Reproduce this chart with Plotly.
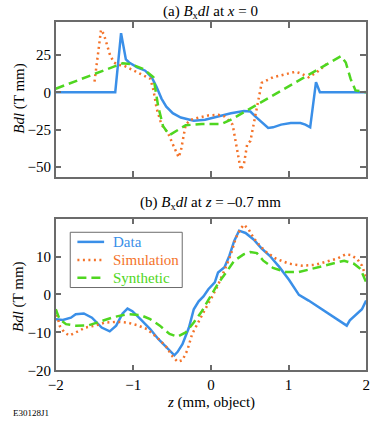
import plotly.graph_objects as go

# (a) Bx dl at x = 0
za_data = [-2.0, -1.233, -1.158, -1.096, -1.054, -0.95, -0.846, -0.763, -0.7, -0.637, -0.575, -0.492,
           -0.388, -0.221, -0.075, 0.092, 0.258, 0.425, 0.508, 0.571, 0.675, 0.738, 0.8, 0.904,
           1.029, 1.154, 1.217, 1.279, 1.354, 1.375, 1.404, 2.0]
bdl_a_data = [0, 0, 39.7, 22.1, 20.0, 16.7, 14.5, 10.1, 3.5, -4.2, -9.6, -14.0,
              -16.9, -19.1, -18.4, -16.2, -14.0, -12.5, -12.9, -16.2, -21.3, -23.9, -23.5, -21.7,
              -20.6, -20.6, -21.7, -23.5, 6.8, 3.5, 0, 0]

za_sim = [-1.5, -1.47, -1.44, -1.416, -1.38, -1.346, -1.3, -1.25, -1.2, -1.117, -0.99, -0.87, -0.78,
          -0.74, -0.7, -0.637, -0.554, -0.491, -0.45, -0.416, -0.387, -0.345, -0.325, -0.263, -0.158,
          -0.033, 0.092, 0.175, 0.28, 0.321, 0.384, 0.426, 0.467, 0.509, 0.55, 0.613, 0.655, 0.8,
          0.967, 1.092, 1.175, 1.259, 1.363, 1.488]
bdl_a_sim = [7.2, 20.0, 32.0, 42.0, 39.0, 33.0, 25.0, 20.0, 18.5, 17.8, 14.5, 11.2, 9.0,
             1.3, -10.7, -21.7, -27.2, -34.9, -40.3, -43.6, -39.2, -26.0, -21.7, -18.4, -17.3,
             -15.5, -15.1, -16.2, -21.7, -34.9, -52.0, -48.0, -34.9, -32.6, -21.7, -4.1, 6.4, 10.1,
             12.3, 13.8, 12.3, 10.1, 13.4, 18.9]

za_syn = [-2.0, -1.137, -1.033, -0.866, -0.741, -0.679, -0.616, -0.533, -0.325, -0.116, 0.134, 0.259,
          1.675, 1.738, 1.8, 1.863, 2.0]
bdl_a_syn = [2.4, 19.5, 18.9, 15.6, 10.1, -9.6, -22.8, -28.7, -22.1, -21.3, -21.3, -18.4,
             24.3, 20.0, 9.0, 1.3, 0.0]

# (b) Bx dl at z = -0.7 mm
zb_data = [-2.0, -1.908, -1.804, -1.742, -1.638, -1.533, -1.408, -1.304, -1.221, -1.138, -1.075, -1.012,
           -0.908, -0.783, -0.679, -0.575, -0.471, -0.429, -0.367, -0.283, -0.221, -0.158, -0.096, -0.033,
           0.05, 0.092, 0.175, 0.238, 0.3, 0.363, 0.446, 0.55, 0.654, 0.758, 0.883, 1.008, 1.134,
           1.259, 1.467, 1.634, 1.75, 1.79, 1.883, 1.946, 2.0]
bdl_b_data = [-6.5, -6.7, -6.1, -5.2, -5.0, -6.1, -8.7, -9.7, -8.2, -5.0, -3.7, -4.4,
              -6.5, -9.1, -11.7, -13.8, -16.0, -15.1, -13.1, -8.7, -3.9, -1.8, -0.5, 1.4,
              3.2, 5.8, 7.2, 10.2, 14.1, 16.8, 16.2, 14.5, 12.1, 10.2, 7.2, 3.8, -0.1,
              -1.6, -4.4, -6.8, -8.2, -6.8, -5.2, -3.9, -1.6]

zb_sim = [-2.0, -1.95, -1.888, -1.825, -1.742, -1.617, -1.492, -1.367, -1.2, -1.075, -0.95, -0.825,
          -0.7, -0.575, -0.492, -0.429, -0.367, -0.304, -0.242, -0.158, -0.075, 0.008, 0.092, 0.175,
          0.258, 0.321, 0.383, 0.425, 0.488, 0.55, 0.633, 0.717, 0.842, 1.008, 1.175, 1.342, 1.508,
          1.633, 1.738, 1.8, 1.883, 1.946, 2.0]
bdl_b_sim = [-3.9, -8.2, -10.0, -10.8, -10.0, -8.7, -8.2, -7.4, -7.2, -7.4, -8.1, -9.1,
             -11.2, -13.8, -16.4, -17.7, -17.3, -14.7, -10.4, -7.0, -3.9, -0.9, 2.5, 6.4,
             10.6, 14.9, 17.3, 18.4, 17.1, 14.9, 12.8, 11.1, 9.4, 8.1, 7.6, 7.8, 8.8,
             9.5, 10.6, 10.4, 9.4, 7.6, 4.6]

zb_syn = [-2.0, -1.95, -1.867, -1.742, -1.575, -1.408, -1.242, -1.075, -0.908, -0.783, -0.658, -0.533,
          -0.429, -0.325, -0.221, -0.117, -0.013, 0.092, 0.217, 0.3, 0.425, 0.508, 0.592, 0.675,
          0.8, 0.967, 1.133, 1.342, 1.55, 1.717, 1.842, 1.925, 2.0]
bdl_b_syn = [-3.9, -6.5, -7.8, -8.2, -8.1, -7.0, -5.9, -5.2, -5.4, -6.5, -8.2, -10.4,
             -11.1, -10.0, -7.4, -4.4, -0.9, 2.9, 6.4, 8.9, 10.6, 11.2, 10.9, 8.9,
             7.0, 5.9, 5.9, 7.0, 8.1, 8.9, 8.1, 6.8, 3.2]

series = ["Data", "Simulation", "Synthetic"]
colors = ["#3a8fe8", "#f4732a", "#4fd620"]
dashes = ["solid", "2px,3.5px", "9px,5px"]

z_ticks = [-2, -1, 0, 1, 2]

FONT = "Liberation Serif"
W, H = 374, 428
GRAY = "#6b6b6b"


def px_x(p):
    return p / W


def px_y(p):
    return 1 - p / H


fig = go.Figure()

panels = [
    ([za_data, za_sim, za_syn], [bdl_a_data, bdl_a_sim, bdl_a_syn], "x", "y"),
    ([zb_data, zb_sim, zb_syn], [bdl_b_data, bdl_b_sim, bdl_b_syn], "x2", "y2"),
]
for xs, ys, xa, ya in panels:
    for i in range(3):
        fig.add_trace(go.Scatter(x=xs[i], y=ys[i], mode="lines", xaxis=xa, yaxis=ya,
                                 name=series[i], showlegend=False, hoverinfo="skip",
                                 line=dict(color=colors[i], width=2.5, dash=dashes[i])))

axis_style = dict(showline=True, mirror="ticks", linecolor=GRAY, linewidth=1.5,
                  ticks="inside", ticklen=6, tickwidth=1.5, tickcolor=GRAY,
                  showgrid=False, zeroline=False, ticklabeloverflow="allow",
                  tickfont=dict(family=FONT, size=15, color="black"))

dom_x = [px_x(49.3), px_x(370)]
fig.update_layout(
    width=W, height=H,
    margin=dict(l=0, r=0, t=0, b=0),
    paper_bgcolor="white", plot_bgcolor="white",
    font=dict(family=FONT, size=15, color="black"),
    showlegend=False,
    xaxis=dict(domain=dom_x, range=[-2, 2], tickvals=z_ticks,
               showticklabels=False, anchor="y", **axis_style),
    yaxis=dict(domain=[px_y(180), px_y(22.7)], range=[-56.6, 47],
               tickvals=[-50, -25, 0, 25], anchor="x", **axis_style),
    xaxis2=dict(domain=dom_x, range=[-2, 2], tickvals=z_ticks,
                anchor="y2", **axis_style),
    yaxis2=dict(domain=[px_y(377.5), px_y(222.7)], range=[-20, 20],
                tickvals=[-20, -10, 0, 10], anchor="x2", **axis_style),
)

# legend drawn by hand so the row spacing matches the original
fig.add_shape(type="rect", xref="paper", yref="paper",
              x0=px_x(64.3), x1=px_x(180), y0=px_y(293), y1=px_y(236.7),
              fillcolor="white", line=dict(color=GRAY, width=1), layer="above")
legend_rows = [246.5, 265, 283]
for i, yy in enumerate(legend_rows):
    fig.add_shape(type="line", xref="paper", yref="paper",
                  x0=px_x(71.7), x1=px_x(99.3), y0=px_y(yy), y1=px_y(yy),
                  line=dict(color=colors[i], width=2.5, dash=dashes[i]), layer="above")
    fig.add_annotation(text=series[i], xref="paper", yref="paper", x=px_x(106.5), y=px_y(yy),
                       xanchor="left", yanchor="middle", showarrow=False,
                       font=dict(family=FONT, size=15, color=colors[i]))

annotations = [
    dict(text="(a) <i>B</i><sub>x</sub><i>dl</i> at <i>x</i> = 0", x=px_x(209.7), y=px_y(12)),
    dict(text="(b) <i>B</i><sub>x</sub><i>dl</i> at <i>z</i> = \u20130.7 mm", x=px_x(209.7), y=px_y(207)),
    dict(text="<i>z</i> (mm, object)", x=px_x(209.7), y=px_y(410)),
    dict(text="<i>Bdl</i> (T mm)", x=px_x(11), y=px_y(100), textangle=-90),
    dict(text="<i>Bdl</i> (T mm)", x=px_x(11), y=px_y(302), textangle=-90),
]
for a in annotations:
    fig.add_annotation(xref="paper", yref="paper", xanchor="center", yanchor="middle",
                       showarrow=False, font=dict(family=FONT, size=15, color="black"), **a)
fig.add_annotation(text="E30128J1", xref="paper", yref="paper", x=px_x(3), y=px_y(421),
                   xanchor="left", yanchor="middle", showarrow=False,
                   font=dict(family=FONT, size=9, color="black"))

# the page body has a default 8px margin, which would push the figure out of the window
fig.write_html("out.html", config={"displayModeBar": False},
               post_script="document.body.style.margin = '0';")
